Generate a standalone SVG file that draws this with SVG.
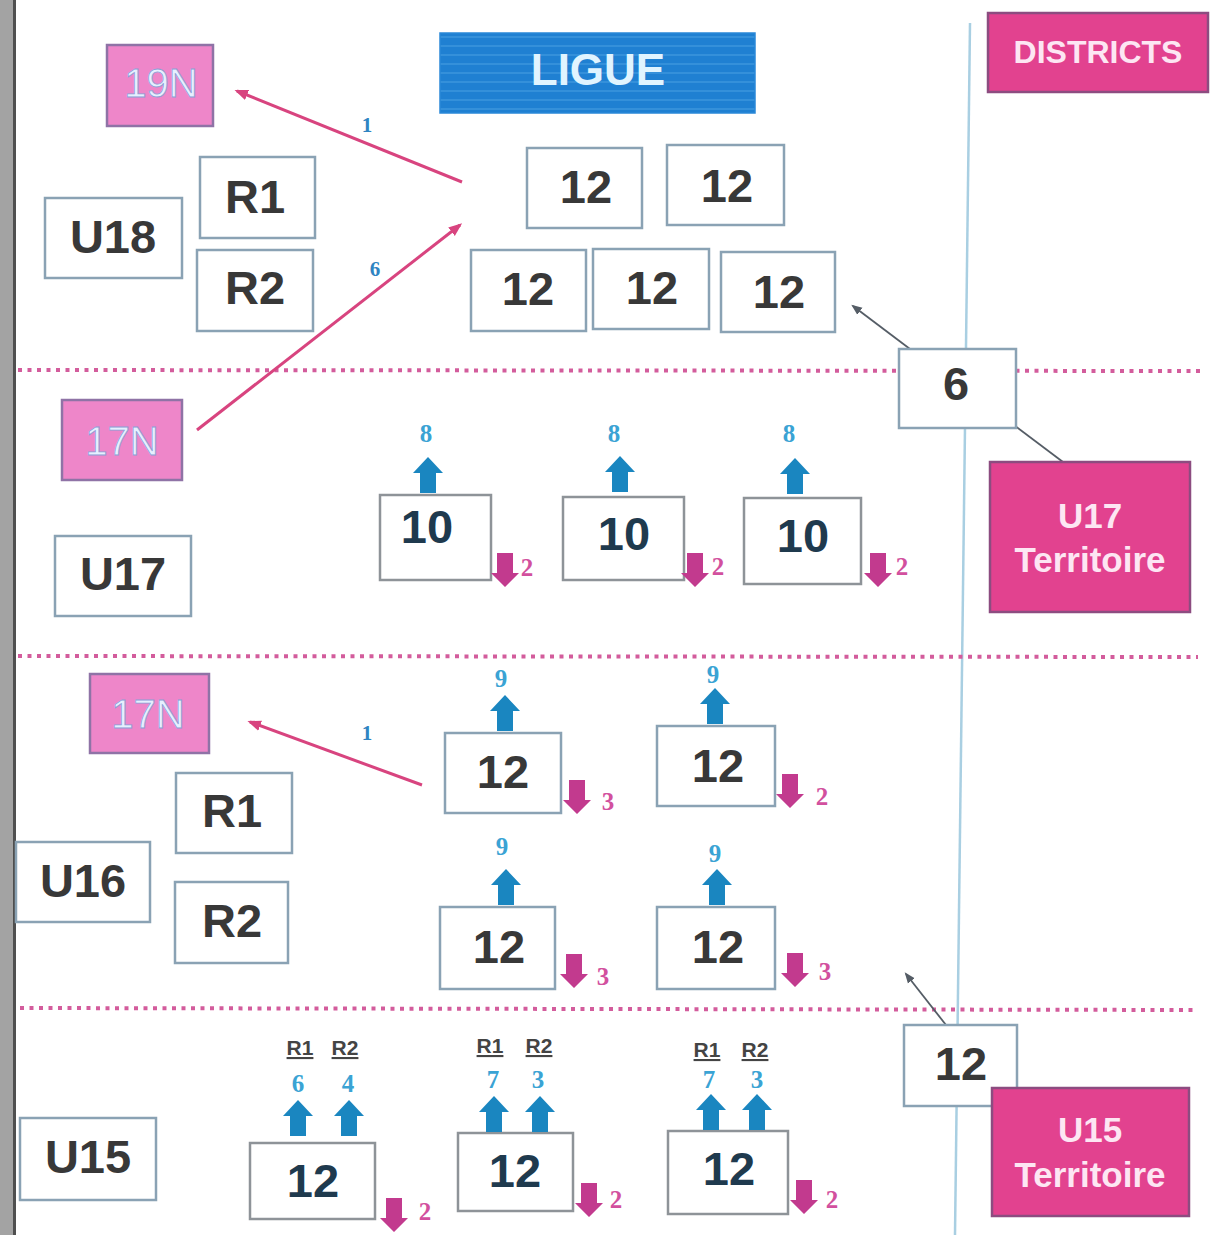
<svg xmlns="http://www.w3.org/2000/svg" width="1218" height="1235" viewBox="0 0 1218 1235">
<defs>
<style>
.box{fill:#fff;stroke:#8aa2b4;stroke-width:2.5}
.gbox{fill:#fff;stroke:#8e9398;stroke-width:2.5}
.t{font-family:"Liberation Sans",Arial,sans-serif;font-weight:bold;text-anchor:middle;fill:#383838;font-size:47px}
.navy{fill:#1f3a4e}
.pinkbox{fill:#ee86c9;stroke:#8f73a6;stroke-width:2.5}
.nat{font-family:"Liberation Sans",Arial,sans-serif;font-size:40px;text-anchor:middle;fill:#e6f0ff;stroke:#8aa0d6;stroke-width:0.8}
.dist{fill:#e2428f;stroke:#8c4c80;stroke-width:2.5}
.wt{font-family:"Liberation Sans",Arial,sans-serif;font-weight:bold;text-anchor:middle;fill:#fde6f3}
.dot{stroke:#d35c9c;stroke-width:4;stroke-dasharray:4 5.5;fill:none}
.up{fill:#1a86c0}
.down{fill:#c23a8e}
.nb{font-family:"Liberation Serif","Times New Roman",serif;font-weight:bold;font-size:25px;text-anchor:middle;fill:#3aa3d4}
.np{font-family:"Liberation Serif","Times New Roman",serif;font-weight:bold;font-size:25px;text-anchor:middle;fill:#d2509e}
.al{font-family:"Liberation Serif","Times New Roman",serif;font-weight:bold;font-size:21px;text-anchor:middle;fill:#2f84c2}
.rl{font-family:"Liberation Sans",Arial,sans-serif;font-weight:bold;font-size:21px;text-anchor:middle;fill:#444;text-decoration:underline}
.pk{stroke:#d8447f;stroke-width:3;fill:none}
.dk{stroke:#555d66;stroke-width:1.8;fill:none}
</style>
<pattern id="stripes" width="10" height="9" patternUnits="userSpaceOnUse"><rect width="10" height="9" fill="#1f80d2"/><rect width="10" height="2" fill="#4ea4e4" opacity="0.45"/></pattern>
<marker id="ap" viewBox="0 0 10 10" refX="8" refY="5" markerWidth="4.5" markerHeight="4.5" orient="auto"><path d="M0,1 L10,5 L0,9 Z" fill="#d8447f"/></marker>
<marker id="ad" viewBox="0 0 10 10" refX="8" refY="5" markerWidth="6" markerHeight="6" orient="auto"><path d="M0,1 L10,5 L0,9 Z" fill="#555d66"/></marker>
<path id="ua" d="M-8,0 V-20 H-15 L0,-36 L15,-20 H8 V0 Z"/>
<path id="da" d="M-8,0 V20 H-14 L0,34 L14,20 H8 V0 Z"/>
</defs>
<rect width="1218" height="1235" fill="#fff"/>
<rect x="0" y="0" width="13" height="1235" fill="#a3a3a3"/>
<rect x="13" y="0" width="3" height="1235" fill="#4f4f4f"/>

<g id="separators">
<line x1="970" y1="23" x2="955" y2="1235" stroke="#a9cfe2" stroke-width="2.5"/>
<line class="dot" x1="18" y1="370" x2="1203" y2="371"/>
<line class="dot" x1="18" y1="656" x2="1198" y2="657"/>
<line class="dot" x1="20" y1="1008" x2="1194" y2="1010"/>
</g>

<g id="connectors">
<line class="pk" x1="462" y1="182" x2="237" y2="91" marker-end="url(#ap)"/>
<line class="pk" x1="197" y1="430" x2="460" y2="225" marker-end="url(#ap)"/>
<line class="pk" x1="422" y1="785" x2="250" y2="722" marker-end="url(#ap)"/>
<line class="dk" x1="910" y1="349" x2="853" y2="306" marker-end="url(#ad)"/>
<line class="dk" x1="1014" y1="425" x2="1063" y2="462"/>
<line class="dk" x1="946" y1="1025" x2="906" y2="974" marker-end="url(#ad)"/>
<line stroke="#8a3a6a" stroke-width="1.8" x1="1017" y1="1103" x2="1047" y2="1140"/>
<text class="al" x="367" y="132">1</text>
<text class="al" x="375" y="276">6</text>
<text class="al" x="367" y="740">1</text>
</g>

<g id="ligue"><rect x="440" y="33" width="315" height="80" fill="url(#stripes)" stroke="#2a88d8" stroke-width="1.5"/><text x="598" y="85" font-family="Liberation Sans, Arial, sans-serif" font-weight="bold" font-size="44" text-anchor="middle" fill="#e0f4ff">LIGUE</text></g>
<g id="districts"><rect class="dist" x="988" y="13" width="220" height="79"/><text class="wt" x="1098" y="63" font-size="32">DISTRICTS</text></g>

<g id="n19N"><rect class="pinkbox" x="107" y="45" width="106" height="81"/><text class="nat" x="161" y="97">19N</text></g>
<g id="u18"><rect class="box" x="45" y="198" width="137" height="80"/><text class="t" x="113" y="253">U18</text></g>
<g id="u18r1"><rect class="box" x="200" y="157" width="115" height="81"/><text class="t" x="255" y="213">R1</text></g>
<g id="u18r2"><rect class="box" x="197" y="250" width="116" height="81"/><text class="t" x="255" y="304">R2</text></g>

<g id="l12a"><rect class="box" x="527" y="148" width="115" height="80"/><text class="t" x="586" y="203">12</text></g>
<g id="l12b"><rect class="box" x="667" y="145" width="117" height="80"/><text class="t" x="727" y="202">12</text></g>
<g id="l12c"><rect class="box" x="471" y="250" width="115" height="81"/><text class="t" x="528" y="305">12</text></g>
<g id="l12d"><rect class="box" x="593" y="249" width="116" height="80"/><text class="t" x="652" y="304">12</text></g>
<g id="l12e"><rect class="box" x="721" y="252" width="114" height="80"/><text class="t" x="779" y="308">12</text></g>

<g id="d6"><rect class="box" x="899" y="349" width="117" height="79"/><text class="t" x="956" y="400" font-size="44">6</text></g>
<g id="u17terr"><rect class="dist" x="990" y="462" width="200" height="150"/><text class="wt" x="1090" y="528" font-size="35">U17</text><text class="wt" x="1090" y="572" font-size="35">Territoire</text></g>

<g id="n17Na"><rect class="pinkbox" x="62" y="400" width="120" height="80"/><text class="nat" x="122" y="455">17N</text></g>
<g id="u17"><rect class="box" x="55" y="536" width="136" height="80"/><text class="t" x="123" y="590">U17</text></g>

<g id="u17a"><rect class="gbox" x="380" y="495" width="111" height="85"/><text class="t navy" x="427" y="543">10</text>
<use href="#ua" class="up" x="428" y="493"/><text class="nb" x="426" y="442">8</text>
<use href="#da" class="down" x="505" y="553"/><text class="np" x="527" y="576">2</text></g>
<g id="u17b"><rect class="gbox" x="563" y="497" width="121" height="83"/><text class="t navy" x="624" y="550">10</text>
<use href="#ua" class="up" x="620" y="492"/><text class="nb" x="614" y="442">8</text>
<use href="#da" class="down" x="695" y="553"/><text class="np" x="718" y="575">2</text></g>
<g id="u17c"><rect class="gbox" x="744" y="498" width="117" height="86"/><text class="t navy" x="803" y="552">10</text>
<use href="#ua" class="up" x="795" y="494"/><text class="nb" x="789" y="442">8</text>
<use href="#da" class="down" x="878" y="553"/><text class="np" x="902" y="575">2</text></g>

<g id="n17Nb"><rect class="pinkbox" x="90" y="674" width="119" height="79"/><text class="nat" x="148" y="728">17N</text></g>
<g id="u16r1"><rect class="box" x="176" y="773" width="116" height="80"/><text class="t" x="232" y="827">R1</text></g>
<g id="u16"><rect class="box" x="16" y="842" width="134" height="80"/><text class="t" x="83" y="897">U16</text></g>
<g id="u16r2"><rect class="box" x="175" y="882" width="113" height="81"/><text class="t" x="232" y="937">R2</text></g>

<g id="u16a"><rect class="box" x="445" y="733" width="116" height="80"/><text class="t" x="503" y="788">12</text>
<use href="#ua" class="up" x="505" y="731"/><text class="nb" x="501" y="687">9</text>
<use href="#da" class="down" x="577" y="780"/><text class="np" x="608" y="810">3</text></g>
<g id="u16b"><rect class="box" x="657" y="726" width="118" height="80"/><text class="t" x="718" y="782">12</text>
<use href="#ua" class="up" x="715" y="724"/><text class="nb" x="713" y="683">9</text>
<use href="#da" class="down" x="790" y="774"/><text class="np" x="822" y="805">2</text></g>
<g id="u16c"><rect class="box" x="440" y="907" width="115" height="82"/><text class="t" x="499" y="963">12</text>
<use href="#ua" class="up" x="506" y="905"/><text class="nb" x="502" y="855">9</text>
<use href="#da" class="down" x="574" y="954"/><text class="np" x="603" y="985">3</text></g>
<g id="u16d"><rect class="box" x="657" y="907" width="118" height="82"/><text class="t" x="718" y="963">12</text>
<use href="#ua" class="up" x="717" y="905"/><text class="nb" x="715" y="862">9</text>
<use href="#da" class="down" x="795" y="953"/><text class="np" x="825" y="980">3</text></g>

<g id="d12"><rect class="box" x="904" y="1025" width="113" height="81"/><text class="t" x="961" y="1080">12</text></g>
<g id="u15terr"><rect class="dist" x="992" y="1088" width="197" height="128"/><text class="wt" x="1090" y="1142" font-size="35">U15</text><text class="wt" x="1090" y="1187" font-size="35">Territoire</text></g>

<g id="u15"><rect class="box" x="20" y="1118" width="136" height="82"/><text class="t" x="88" y="1173">U15</text></g>

<g id="u15a"><rect class="gbox" x="250" y="1143" width="125" height="76"/><text class="t navy" x="313" y="1197">12</text>
<use href="#ua" class="up" x="298" y="1136"/><use href="#ua" class="up" x="349" y="1136"/>
<text class="nb" x="298" y="1092">6</text><text class="nb" x="348" y="1092">4</text>
<text class="rl" x="300" y="1055">R1</text><text class="rl" x="345" y="1055">R2</text>
<use href="#da" class="down" x="394" y="1198"/><text class="np" x="425" y="1220">2</text></g>
<g id="u15b"><rect class="gbox" x="458" y="1133" width="115" height="78"/><text class="t navy" x="515" y="1187">12</text>
<use href="#ua" class="up" x="494" y="1132"/><use href="#ua" class="up" x="540" y="1132"/>
<text class="nb" x="493" y="1088">7</text><text class="nb" x="538" y="1088">3</text>
<text class="rl" x="490" y="1053">R1</text><text class="rl" x="539" y="1053">R2</text>
<use href="#da" class="down" x="589" y="1183"/><text class="np" x="616" y="1208">2</text></g>
<g id="u15c"><rect class="gbox" x="668" y="1131" width="120" height="83"/><text class="t navy" x="729" y="1185">12</text>
<use href="#ua" class="up" x="711" y="1130"/><use href="#ua" class="up" x="757" y="1130"/>
<text class="nb" x="709" y="1088">7</text><text class="nb" x="757" y="1088">3</text>
<text class="rl" x="707" y="1057">R1</text><text class="rl" x="755" y="1057">R2</text>
<use href="#da" class="down" x="804" y="1180"/><text class="np" x="832" y="1208">2</text></g>
</svg>
